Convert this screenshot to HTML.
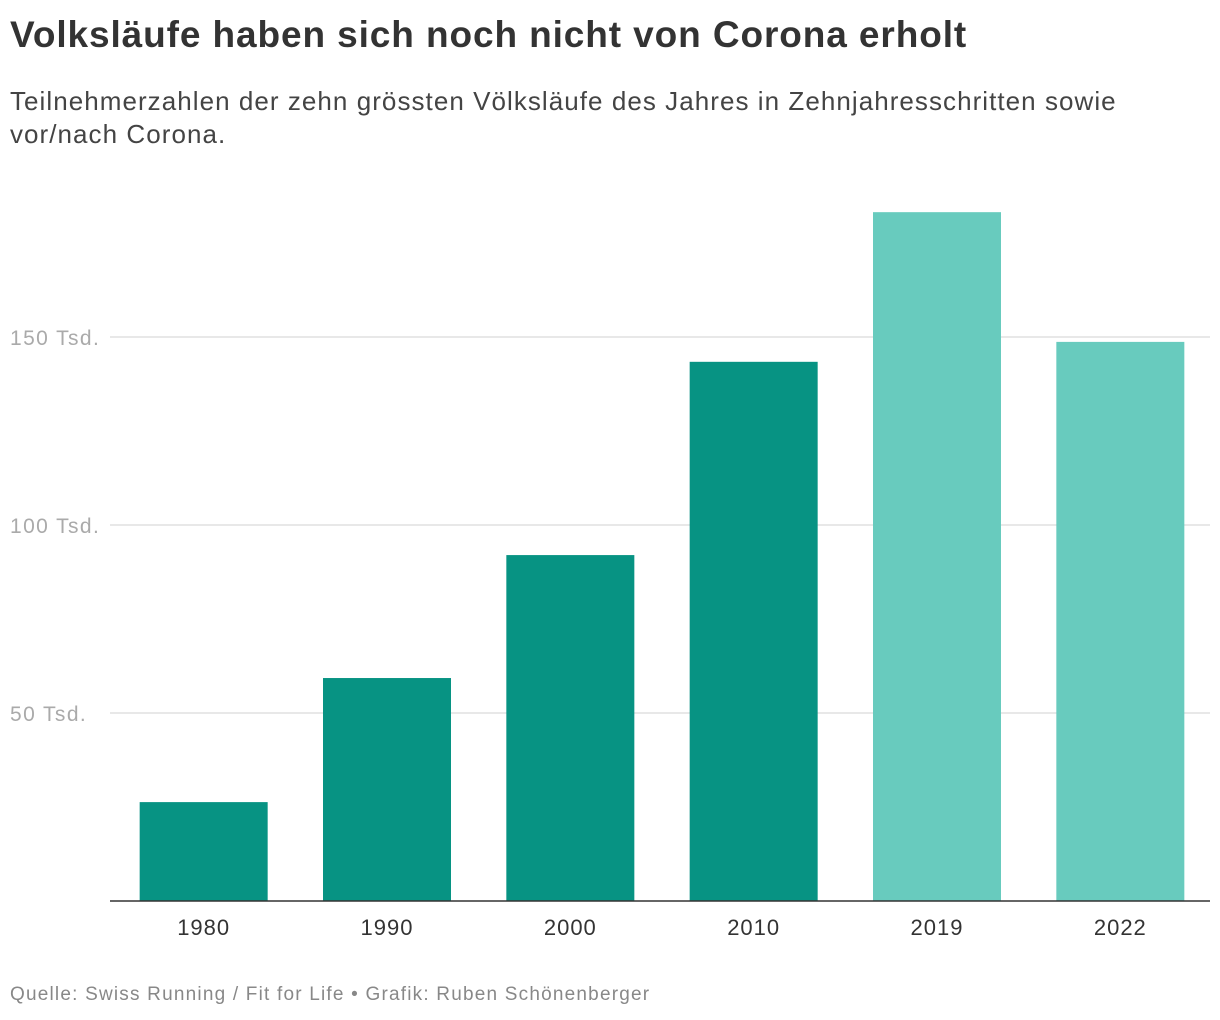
<!DOCTYPE html>
<html><head><meta charset="utf-8"><style>
body{margin:0;background:#fff;width:1220px;height:1020px;overflow:hidden;font-family:"Liberation Sans",sans-serif;color:#333}
h1{position:absolute;left:10px;top:14px;margin:0;font-size:37px;font-weight:bold;color:#333;letter-spacing:0.9px}
p.sub{position:absolute;left:10px;top:85px;margin:0;font-size:26px;line-height:33px;color:#444;width:1135px;letter-spacing:1.05px}
p.src{position:absolute;left:10px;top:984px;margin:0;font-size:19px;color:#888;letter-spacing:1.2px}
svg{position:absolute;left:0;top:0}
</style></head><body>
<h1>Volksläufe haben sich noch nicht von Corona erholt</h1>
<p class="sub">Teilnehmerzahlen der zehn grössten Völksläufe des Jahres in Zehnjahresschritten sowie vor/nach Corona.</p>
<svg id="c" width="1220" height="1020"></svg>
<p class="src">Quelle: Swiss Running / Fit for Life • Grafik: Ruben Schönenberger</p>
<script>
const categories=["1980","1990","2000","2010","2019","2022"];
const values=[26.3,59.3,92.0,143.4,183.2,148.7];
const highlight=[false,false,false,false,true,true];
const ticks=[50,100,150];
const tickLabels=["50 Tsd.","100 Tsd.","150 Tsd."];
const svg=document.getElementById('c');
const NS='http://www.w3.org/2000/svg';
const x0=110,x1=1210,y0=901,pxPerUnit=188/50;
const y=v=>y0-v*pxPerUnit;
const step=(x1-x0)/categories.length,bw=128;
const xb=i=>x0+2+i*step+(step-bw)/2;
function mk(t,a){const e=document.createElementNS(NS,t);for(const k in a)e.setAttribute(k,a[k]);svg.appendChild(e);return e;}
ticks.forEach((t,i)=>{
 const g=mk('line',{x1:x0,x2:x1,y1:y(t),y2:y(t),stroke:'#e0e0e0','stroke-width':1.5});
 
 
 const l=mk('text',{x:10,y:y(t)+8,'font-size':21,fill:'#aaa','font-family':'Liberation Sans','letter-spacing':'1.4'});
 l.textContent=tickLabels[i];
 
 
});
categories.forEach((c,i)=>{
 const r=mk('rect',{x:xb(i),y:y(values[i]),width:bw,height:y0-y(values[i]),fill:highlight[i]?'#68cbbe':'#079383'});
 
 
 const t=mk('text',{x:xb(i)+bw/2,y:935,'text-anchor':'middle','font-size':22,fill:'#333','font-family':'Liberation Sans','letter-spacing':'1'});
 t.textContent=c;
 
 
});
const ax=mk('line',{x1:x0,x2:x1,y1:y0,y2:y0,stroke:'#333','stroke-width':1.5});


</script>
</body></html>
